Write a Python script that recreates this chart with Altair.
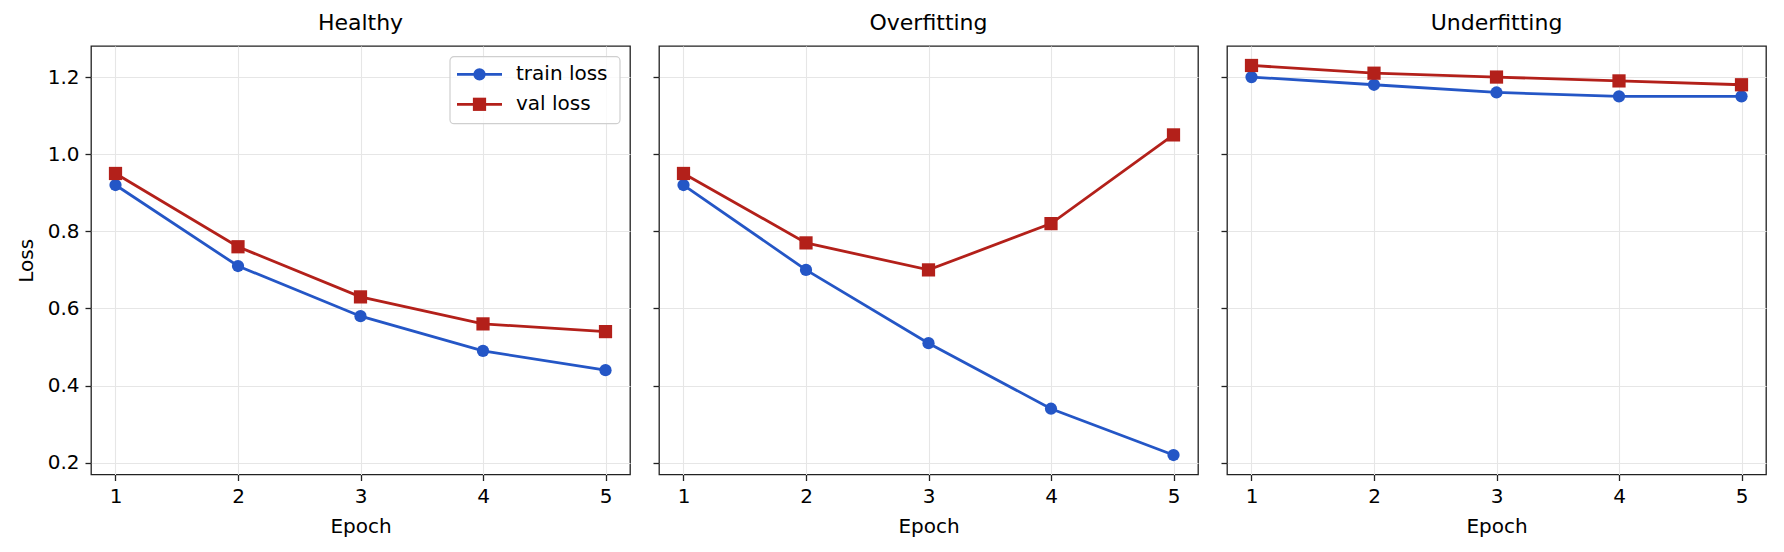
import altair as alt
import pandas as pd

# Loss curves per training regime
epochs = [1, 2, 3, 4, 5]
scenarios = ["Healthy", "Overfitting", "Underfitting"]
train_loss = {
    "Healthy": [0.92, 0.71, 0.58, 0.49, 0.44],
    "Overfitting": [0.92, 0.70, 0.51, 0.34, 0.22],
    "Underfitting": [1.20, 1.18, 1.16, 1.15, 1.15],
}
val_loss = {
    "Healthy": [0.95, 0.76, 0.63, 0.56, 0.54],
    "Overfitting": [0.95, 0.77, 0.70, 0.82, 1.05],
    "Underfitting": [1.23, 1.21, 1.20, 1.19, 1.18],
}
series_names = ["train loss", "val loss"]
series_colors = ["#2456c6", "#b3201a"]
series_shapes = ["circle", "square"]
y_ticks = [0.2, 0.4, 0.6, 0.8, 1.0, 1.2]

rows = []
for sc in scenarios:
    for name, src in zip(series_names, [train_loss, val_loss]):
        for e, v in zip(epochs, src[sc]):
            rows.append({"scenario": sc, "series": name, "epoch": e, "loss": v})
df = pd.DataFrame(rows)

FONT = "DejaVu Sans"
W, H = 539, 428.5
x_scale = alt.Scale(domain=[0.8, 5.2], nice=False, zero=False)
y_scale = alt.Scale(domain=[0.1695, 1.2805], nice=False, zero=False)
color_scale = alt.Scale(domain=series_names, range=series_colors)
shape_scale = alt.Scale(domain=series_names, range=series_shapes)
size_scale = alt.Scale(domain=series_names, range=[150, 175])


def panel(sc, first):
    x_axis = alt.Axis(values=epochs, format="d", title="Epoch", grid=True, titlePadding=10)
    if first:
        y_axis = alt.Axis(values=y_ticks, format=".1f", title="Loss", grid=True, titlePadding=11)
    else:
        y_axis = alt.Axis(values=y_ticks, labels=False, title=None, grid=True)
    base = alt.Chart(df).transform_filter(alt.datum.scenario == sc)
    enc = dict(
        x=alt.X("epoch:Q", scale=x_scale, axis=x_axis),
        y=alt.Y("loss:Q", scale=y_scale, axis=y_axis),
        color=alt.Color("series:N", scale=color_scale, legend=None),
    )
    lines = base.mark_line(strokeWidth=2.8).encode(detail="series:N", **enc)
    pts = base.mark_point(filled=True, opacity=1).encode(
        shape=alt.Shape("series:N", scale=shape_scale, legend=None),
        size=alt.Size("series:N", scale=size_scale, legend=None),
        **enc,
    )
    layers = [lines, pts]
    if first:
        one = pd.DataFrame({"k": [0]})
        box = alt.Chart(one).mark_rect(
            fill="white", fillOpacity=0.8, stroke="#cfcfcf", strokeWidth=1.2, cornerRadius=4
        ).encode(x=alt.value(359), x2=alt.value(529), y=alt.value(10.7), y2=alt.value(77.7))
        layers.append(box)
        for i, (name, col, shp) in enumerate(zip(series_names, series_colors, series_shapes)):
            yy = 28.3 + 30 * i
            ld = pd.DataFrame({"label": [name]})
            layers.append(
                alt.Chart(ld).mark_rule(color=col, strokeWidth=2.8).encode(
                    x=alt.value(366), x2=alt.value(411), y=alt.value(yy)
                )
            )
            layers.append(
                alt.Chart(ld).mark_point(
                    filled=True, opacity=1, color=col, shape=shp, size=150 if i == 0 else 175
                ).encode(x=alt.value(388.5), y=alt.value(yy))
            )
            layers.append(
                alt.Chart(ld).mark_text(
                    align="left", baseline="middle", font=FONT, fontSize=20, color="black"
                ).encode(x=alt.value(425), y=alt.value(yy), text="label:N")
            )
    return alt.layer(*layers).properties(
        width=W,
        height=H,
        title=alt.TitleParams(sc, frame="group", anchor="middle"),
    )


chart = (
    alt.hconcat(*[panel(sc, i == 0) for i, sc in enumerate(scenarios)], spacing=20)
    .properties(padding={"left": 15, "top": 11, "right": 5, "bottom": 5}, background="white")
    .configure_view(stroke="#222222", strokeWidth=1.3)
    .configure_axis(
        domain=False,
        gridColor="#e6e6e6",
        gridWidth=1.1,
        tickColor="#222222",
        tickWidth=1.3,
        tickSize=6,
        labelFont=FONT,
        labelFontSize=20,
        labelColor="black",
        labelPadding=6,
        titleFont=FONT,
        titleFontSize=20,
        titleFontWeight="normal",
        titleColor="black",
    )
    .configure_title(font=FONT, fontSize=22, fontWeight="normal", color="black", offset=11)
)

chart.save("out.html", embed_options={"renderer": "svg", "actions": False})
